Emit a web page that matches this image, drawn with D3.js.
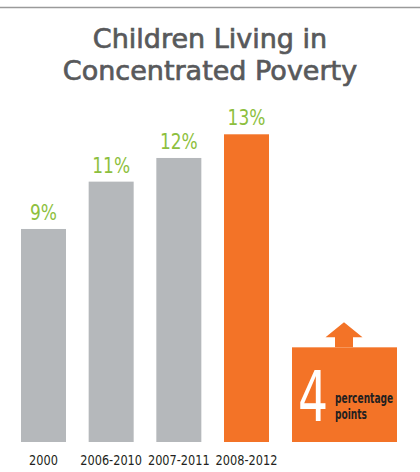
<!DOCTYPE html>
<html>
<head>
<meta charset="utf-8">
<script src="https://cdn.jsdelivr.net/npm/d3@7"></script>
<style>
  body { margin: 0; background: #fff; }
  svg { display: block; }
</style>
</head>
<body>
<svg id="chart" width="420" height="472"></svg>
<script>
// data
const periods = ['2000', '2006-2010', '2007-2011', '2008-2012'];
const shares = [9, 11, 12, 13];
const highlight = ['2008-2012'];
const titleLines = ['Children Living in', 'Concentrated Poverty'];

const gray = '#b5b8bb', orange = '#f37327', green = '#8dbf3e';
const narrow = '"DejaVu Sans Condensed", "DejaVu Sans", sans-serif';

const svg = d3.select('#chart');
const baseY = 442;

// squeeze text horizontally, the reference uses a condensed face
function condense(sel, factor) {
  sel.each(function() {
    const w = this.getComputedTextLength();
    d3.select(this).attr('textLength', w * factor).attr('lengthAdjust', 'spacingAndGlyphs');
  });
}

const x = d3.scaleBand().domain(periods).range([21, 269]).paddingInner(0.335).paddingOuter(0);
// ~23.7px per percentage point
const y = d3.scaleLinear().domain([0, 13]).range([baseY, baseY - 307.7]);

// top rule
svg.append('line')
  .attr('x1', 0).attr('x2', 420).attr('y1', 7.5).attr('y2', 7.5)
  .attr('stroke', '#9a9a9a').attr('stroke-width', 1.6);

// title
svg.selectAll('text.title').data(titleLines).join('text')
  .attr('class', 'title')
  .attr('text-anchor', 'middle')
  .attr('font-family', '"DejaVu Sans", sans-serif')
  .attr('font-size', 27)
  .attr('fill', '#58595b')
  .attr('stroke', '#58595b').attr('stroke-width', 0.7)
  .attr('x', 210).attr('y', (d, i) => 48 + i * 32)
  .text(d => d)
  .call(condense, 1.0);

// bars
svg.selectAll('rect.bar').data(periods).join('rect')
  .attr('class', 'bar')
  .attr('x', d => x(d))
  .attr('width', x.bandwidth())
  .attr('y', (d, i) => y(shares[i]))
  .attr('height', (d, i) => y(0) - y(shares[i]))
  .attr('fill', d => highlight.includes(d) ? orange : gray);

// value labels
svg.selectAll('text.val').data(periods).join('text')
  .attr('class', 'val')
  .attr('x', d => x(d) + x.bandwidth() / 2)
  .attr('y', (d, i) => y(shares[i]) - 9)
  .attr('text-anchor', 'middle')
  .attr('font-family', narrow)
  .attr('font-size', 21)
  .attr('fill', green)
  .text((d, i) => shares[i] + '%')
  .call(condense, 0.9);

// category labels
svg.selectAll('text.cat').data(periods).join('text')
  .attr('class', 'cat')
  .attr('x', d => x(d) + x.bandwidth() / 2)
  .attr('y', 465)
  .attr('text-anchor', 'middle')
  .attr('font-family', narrow)
  .attr('font-size', 14)
  .attr('fill', '#231f20')
  .text(d => d)
  .call(condense, 0.9);

// change box: 4 percentage points
const change = shares[shares.length - 1] - shares[0];
const bx0 = 292, bx1 = 397;
const boxTop = baseY - (y(0) - y(change));
const g = svg.append('g');
g.append('rect')
  .attr('x', bx0).attr('width', bx1 - bx0)
  .attr('y', boxTop).attr('height', y(0) - y(change))
  .attr('fill', orange);
const cx = (bx0 + bx1) / 2 - 0.5;
g.append('path')
  .attr('d', `M${cx - 9},${boxTop} V${boxTop - 10} H${cx - 18.5} L${cx},${boxTop - 25} L${cx + 18.5},${boxTop - 10} H${cx + 9} V${boxTop} Z`)
  .attr('fill', orange);
g.append('text')
  .attr('x', 313).attr('y', 421)
  .attr('text-anchor', 'middle')
  .attr('font-family', narrow)
  .attr('font-size', 70)
  .attr('fill', '#fff')
  .text(change)
  .call(condense, 0.75);
g.selectAll('text.pp').data(['percentage', 'points']).join('text')
  .attr('class', 'pp')
  .attr('font-family', narrow)
  .attr('font-size', 14).attr('font-weight', 'bold')
  .attr('fill', '#231f20')
  .attr('x', 335).attr('y', (d, i) => 403 + i * 16)
  .text(d => d)
  .call(condense, 0.72);
</script>
</body>
</html>
